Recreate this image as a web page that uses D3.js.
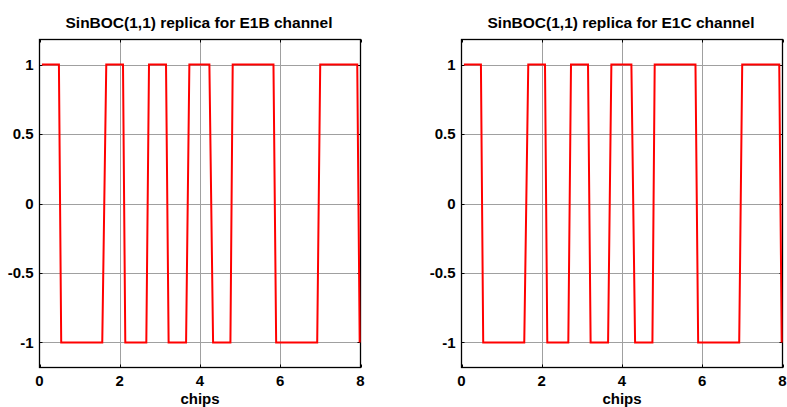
<!DOCTYPE html>
<html>
<head lang="en">
    <meta charset="UTF-8">
    <title>SinBOC(1,1) replicas</title>
    <script src="https://cdnjs.cloudflare.com/ajax/libs/d3/7.8.5/d3.min.js" charset="utf-8"></script>
    <style>
        body { margin: 0; background: white; }
        text { font-family: "Liberation Sans", Arial, sans-serif; font-weight: bold; fill: #000; }
    </style>
</head>

<body>
<div id="chart"></div>
<script>

// vertices of the replica waveform (chips)
var chipTimes = [0.06, 0.484, 0.541, 1.564, 1.664, 2.081, 2.138, 2.662, 2.729, 3.153, 3.218,
                 3.653, 3.735, 4.234, 4.326, 4.758, 4.815, 5.831, 5.898, 6.921, 6.996, 7.919, 7.98];
var e1bLevels = [1, 1, -1, -1, 1, 1, -1, -1, 1, 1, -1, -1, 1, 1, -1, -1, 1, 1, -1, -1, 1, 1, -1];
var e1cLevels = [1, 1, -1, -1, 1, 1, -1, -1, 1, 1, -1, -1, 1, 1, -1, -1, 1, 1, -1, -1, 1, 1, -1];

var xTicks = [0, 2, 4, 6, 8];
var yTicks = [-1, -0.5, 0, 0.5, 1];
var yTickLabels = ['-1', '-0.5', '0', '0.5', '1'];
var titles = ['SinBOC(1,1) replica for E1B channel', 'SinBOC(1,1) replica for E1C channel'];
var xLabel = 'chips';

var svgWidth = 787, svgHeight = 407;
var svg = d3.select('#chart').append('svg')
    .attr('width', svgWidth)
    .attr('height', svgHeight);

var panels = [
    {left: 39.5, levels: e1bLevels, title: titles[0]},
    {left: 461.5, levels: e1cLevels, title: titles[1]}
];
var plotW = 321, plotTop = 39.5, plotBottom = 367.5;

panels.forEach(function (p) {
    var x = d3.scaleLinear().domain([0, 8]).range([p.left, p.left + plotW]);
    var y = d3.scaleLinear().domain([-1.18, 1.18]).range([plotBottom, plotTop]);
    var g = svg.append('g');

    // grid
    g.selectAll('.vgrid').data(xTicks.slice(1, -1)).enter().append('line')
        .attr('x1', function (d) { return Math.round(x(d)) + 0.5; })
        .attr('x2', function (d) { return Math.round(x(d)) + 0.5; })
        .attr('y1', plotTop).attr('y2', plotBottom)
        .attr('stroke', '#a0a0a0').attr('stroke-width', 1);
    g.selectAll('.hgrid').data(yTicks).enter().append('line')
        .attr('y1', function (d) { return Math.round(y(d)) + 0.5; })
        .attr('y2', function (d) { return Math.round(y(d)) + 0.5; })
        .attr('x1', p.left).attr('x2', p.left + plotW)
        .attr('stroke', '#a0a0a0').attr('stroke-width', 1);

    // box
    g.append('rect')
        .attr('x', p.left).attr('y', plotTop)
        .attr('width', plotW).attr('height', plotBottom - plotTop)
        .attr('fill', 'none').attr('stroke', '#000').attr('stroke-width', 1.3);

    // inward ticks on all sides
    var tl = 3;
    xTicks.forEach(function (t) {
        var xx = Math.round(x(t)) + 0.5;
        g.append('line').attr('x1', xx).attr('x2', xx).attr('y1', plotBottom).attr('y2', plotBottom - tl).attr('stroke', '#000');
        g.append('line').attr('x1', xx).attr('x2', xx).attr('y1', plotTop).attr('y2', plotTop + tl).attr('stroke', '#000');
        g.append('text').attr('x', x(t)).attr('y', 386)
            .attr('text-anchor', 'middle').style('font-size', '15px').text(t);
    });
    yTicks.forEach(function (t, i) {
        var yy = Math.round(y(t)) + 0.5;
        g.append('line').attr('y1', yy).attr('y2', yy).attr('x1', p.left).attr('x2', p.left + tl).attr('stroke', '#000');
        g.append('line').attr('y1', yy).attr('y2', yy).attr('x1', p.left + plotW).attr('x2', p.left + plotW - tl).attr('stroke', '#000');
        g.append('text').attr('x', p.left - 6).attr('y', y(t)).attr('dy', '0.36em')
            .attr('text-anchor', 'end').style('font-size', '15px').text(yTickLabels[i]);
    });

    // waveform, drawn over the box so the last edge at x=8 shows
    var pts = chipTimes.map(function (t, i) { return [t, p.levels[i]]; });
    var line = d3.line().x(function (d) { return x(d[0]); }).y(function (d) { return y(d[1]); });
    g.append('path').datum(pts)
        .attr('d', line)
        .attr('fill', 'none')
        .attr('stroke', '#ff0000')
        .attr('stroke-width', 2)
        .attr('stroke-linejoin', 'miter');

    g.append('text').attr('x', p.left + plotW / 2).attr('y', 404)
        .attr('text-anchor', 'middle').style('font-size', '15px').text(xLabel);
    g.append('text').attr('x', p.left + plotW / 2 - 1).attr('y', 28)
        .attr('text-anchor', 'middle').style('font-size', '15.5px').text(p.title);
});

</script>
</body>
</html>
